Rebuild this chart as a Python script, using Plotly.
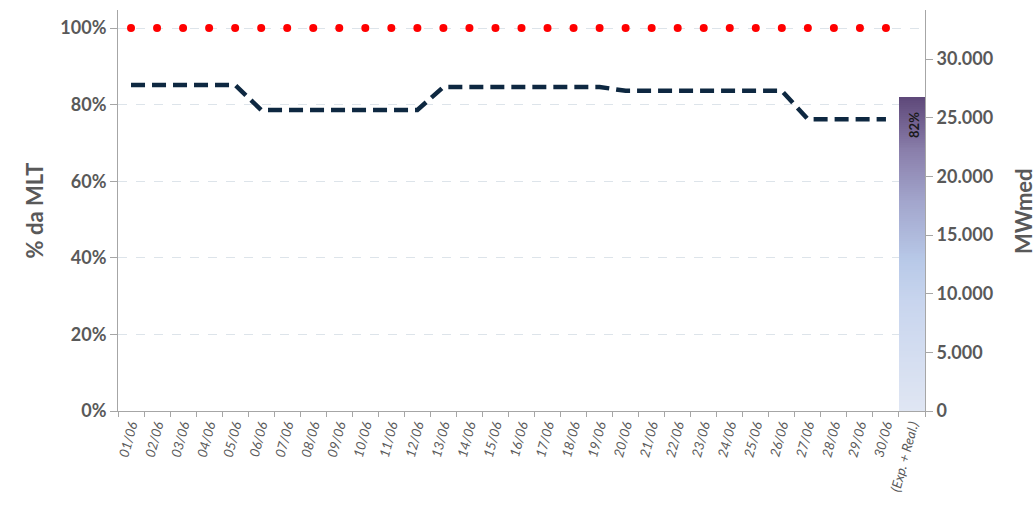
import numpy as np
import plotly.graph_objects as go
from plotly.colors import sample_colorscale

# Daily categories for June plus the month-end bar
dias = [f"{d:02d}/06" for d in range(1, 31)]
bar_cat = "(Exp. + Real.)"
categorias = dias + [bar_cat]

# Reference level (100% MLT) and daily forecast (% da MLT)
referencia = [1.00] * 30
previsao = ([0.851] * 5 + [0.786] * 7 + [0.846] * 7 + [0.836] * 7 + [0.762] * 4)

# Month-end energy (Exp. + Real.) as % da MLT
mes_pct = 0.82
mes_label = "82%"

# Axis ticks
pct_ticks = [0, 0.2, 0.4, 0.6, 0.8, 1.0]
pct_text = ["0%", "20%", "40%", "60%", "80%", "100%"]
mw_ticks = [0, 5000, 10000, 15000, 20000, 25000, 30000]
mw_text = ["0", "5.000", "10.000", "15.000", "20.000", "25.000", "30.000"]

GRAY = "#595959"
AXIS = "#a6a6a6"
FONT = "Lato"

bar_scale = [
    [0.0, "#e0e6f3"],
    [0.35, "#c8d5ee"],
    [0.48, "#b8c9e8"],
    [0.67, "#a2a5cc"],
    [0.83, "#8a7fab"],
    [1.0, "#5e4879"],
]

fig = go.Figure()

# Gradient-filled bar: the bar from 0 to mes_pct split into thin stacked slices
n_seg = 160
edges = np.linspace(0, mes_pct, n_seg + 1)
mids = (edges[:-1] + edges[1:]) / 2
seg_colors = sample_colorscale(bar_scale, list(mids / mes_pct))
fig.add_trace(go.Bar(
    x=[bar_cat] * n_seg, y=np.diff(edges), base=edges[:-1],
    width=1.0, marker=dict(color=seg_colors, line=dict(width=0)),
    hoverinfo="skip",
))

# Forecast line
fig.add_trace(go.Scatter(
    x=dias, y=previsao, mode="lines",
    line=dict(color="#0e2841", width=4.5, dash="14px,7px"),
    hoverinfo="skip",
))

# 100% MLT reference dots
fig.add_trace(go.Scatter(
    x=dias, y=referencia, mode="markers",
    marker=dict(color="#ff0000", size=8),
    hoverinfo="skip",
))

# Empty trace so the MWmed axis is drawn
fig.add_trace(go.Scatter(x=[None], y=[None], yaxis="y2", showlegend=False, hoverinfo="skip"))

fig.add_annotation(
    x=bar_cat, y=mes_pct, text=mes_label, showarrow=False,
    textangle=-90, yanchor="top", yshift=-13, xshift=2,
    font=dict(family=FONT, size=13, color="#1a1a1a", weight="bold"),
)

fig.add_annotation(
    xref="paper", yref="paper", x=-0.103, y=0.5, text="% da MLT",
    showarrow=False, textangle=-90, xanchor="center", yanchor="middle",
    font=dict(family=FONT, size=22, color=GRAY, weight="bold"),
)
fig.add_annotation(
    xref="paper", yref="paper", x=1.122, y=0.5, text="MWmed",
    showarrow=False, textangle=-90, xanchor="center", yanchor="middle",
    font=dict(family=FONT, size=22, color=GRAY, weight="bold"),
)

fig.update_layout(
    width=1036, height=506,
    margin=dict(l=118, r=111, t=10, b=95),
    paper_bgcolor="white", plot_bgcolor="white",
    showlegend=False, barmode="overlay", bargap=0,
    xaxis=dict(
        type="category", categoryorder="array", categoryarray=categorias,
        range=[-0.5, len(categorias) - 0.5],
        showline=True, linecolor=AXIS, linewidth=1,
        ticks="outside", tickson="boundaries", ticklen=5, tickcolor=AXIS,
        tickangle=-75, showgrid=False,
        tickfont=dict(family=FONT, size=13.5, color=GRAY, style="italic"),
    ),
    yaxis=dict(
        range=[0, 1.047], tickvals=pct_ticks, ticktext=pct_text,
        showline=True, linecolor=AXIS, linewidth=1,
        ticks="outside", ticklen=7, tickcolor=AXIS,
        showgrid=True, gridcolor="#dde4ea", griddash="dash", gridwidth=1,
        zeroline=False,
        tickfont=dict(family=FONT, size=18, color=GRAY, weight="bold"),
    ),
    yaxis2=dict(
        overlaying="y", side="right", range=[0, 34180],
        tickvals=mw_ticks, ticktext=mw_text,
        showline=True, linecolor=AXIS, linewidth=1,
        ticks="outside", ticklen=7, tickcolor=AXIS,
        showgrid=False, zeroline=False,
        tickfont=dict(family=FONT, size=18, color=GRAY, weight="bold"),
    ),
)

fig.write_html("out.html")
